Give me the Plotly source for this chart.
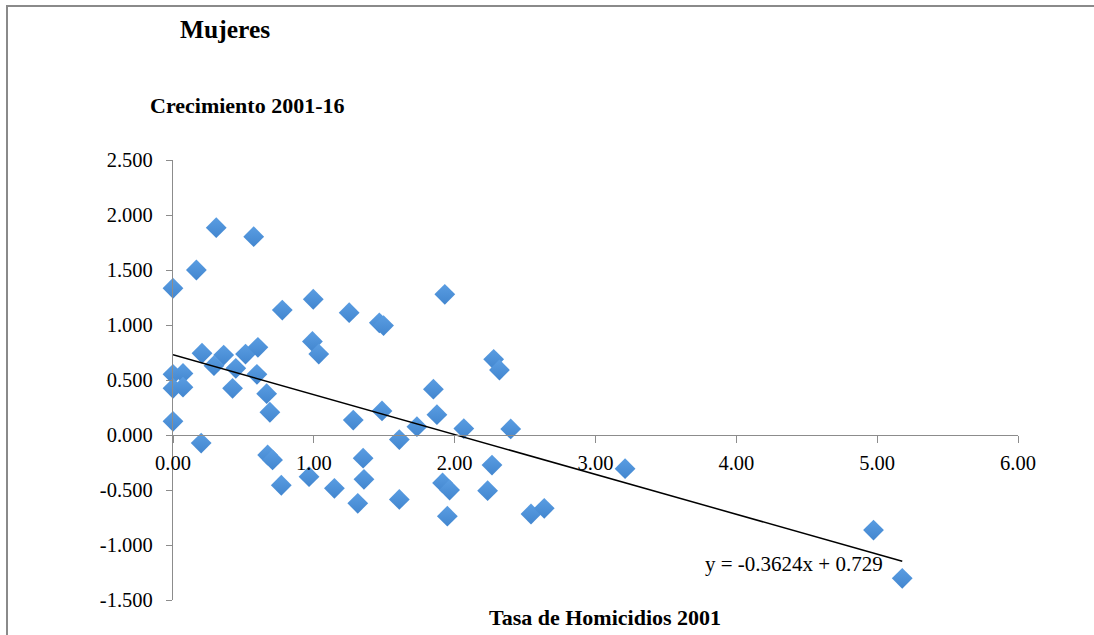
import plotly.graph_objects as go

# Data
tasa_homicidios_2001 = [
    0.000, 0.166, 0.307, 0.573, 0.776, 0.996, 1.251, 1.465, 1.495, 1.930,
    0.990, 1.035, 0.206, 0.360, 0.515, 0.603, 0.291, 0.446, 0.596, 0.000,
    0.071, 0.000, 0.071, 0.423, 0.665, 0.688, 0.000, 0.200, 0.672, 0.707,
    0.769, 0.966, 1.146, 1.280, 1.350, 1.356, 1.312, 1.484, 1.607, 1.607,
    1.732, 1.849, 1.874, 1.914, 1.964, 1.948, 2.065, 2.277, 2.318, 2.398,
    2.265, 2.234, 2.542, 2.636, 3.210, 4.974, 5.178,
]
crecimiento_2001_16 = [
    1.334, 1.500, 1.885, 1.803, 1.136, 1.234, 1.112, 1.020, 0.995, 1.279,
    0.850, 0.736, 0.743, 0.727, 0.736, 0.797, 0.630, 0.606, 0.552, 0.552,
    0.560, 0.424, 0.435, 0.424, 0.376, 0.207, 0.124, -0.073, -0.182, -0.227,
    -0.457, -0.379, -0.485, 0.136, -0.211, -0.403, -0.621, 0.219, -0.042, -0.586,
    0.076, 0.417, 0.185, -0.436, -0.500, -0.738, 0.058, 0.688, 0.591, 0.055,
    -0.273, -0.506, -0.718, -0.667, -0.306, -0.864, -1.303,
]
trend_slope = -0.3624
trend_intercept = 0.729

x_tick_values = [0, 1, 2, 3, 4, 5, 6]
x_tick_labels = ["0.00", "1.00", "2.00", "3.00", "4.00", "5.00", "6.00"]
y_tick_values = [-1.5, -1.0, -0.5, 0.0, 0.5, 1.0, 1.5, 2.0, 2.5]
y_tick_labels = ["-1.500", "-1.000", "-0.500", "0.000", "0.500",
                 "1.000", "1.500", "2.000", "2.500"]

title_text = "Mujeres"
y_title_text = "Crecimiento 2001-16"
x_title_text = "Tasa de Homicidios 2001"
equation_text = "y = -0.3624x + 0.729"

x_range = [0, 6]
y_range = [-1.5, 2.5]

trend_x = [min(tasa_homicidios_2001), max(tasa_homicidios_2001)]
trend_y = [trend_slope * v + trend_intercept for v in trend_x]

SERIF = "Liberation Serif, Times New Roman, serif"

fig = go.Figure()
fig.add_trace(go.Scatter(
    x=tasa_homicidios_2001, y=crecimiento_2001_16, mode="markers",
    marker=dict(symbol="diamond", size=16, color="#5a9de2",
                gradient=dict(type="vertical", color="#4286cf"),
                line=dict(width=0)),
    cliponaxis=False, hoverinfo="x+y",
))
fig.add_trace(go.Scatter(
    x=trend_x, y=trend_y, mode="lines",
    line=dict(color="black", width=1.5), cliponaxis=False,
))

L, R, T, B = 173, 76, 160, 35
W, H = 1094, 635
pw, ph = W - L - R, H - T - B

def px_x(p):
    return (p - L) / pw

def px_y(p):
    return (H - B - p) / ph

zero_pos = (0 - y_range[0]) / (y_range[1] - y_range[0])

fig.update_layout(
    width=W, height=H,
    margin=dict(l=L, r=R, t=T, b=B, autoexpand=False),
    paper_bgcolor="white", plot_bgcolor="white",
    showlegend=False,
    font=dict(family=SERIF, size=20.5, color="black"),
    xaxis=dict(range=x_range, tickmode="array", tickvals=x_tick_values,
               ticktext=x_tick_labels,
               showgrid=False, zeroline=False, showline=True,
               linecolor="#8c8c8c", linewidth=1.2,
               ticks="outside", ticklen=7, tickcolor="#8c8c8c", tickwidth=1.2,
               anchor="free", position=zero_pos, ticklabelstandoff=2,
               tickfont=dict(family=SERIF, size=20.5, color="black")),
    yaxis=dict(range=y_range, tickmode="array", tickvals=y_tick_values,
               ticktext=y_tick_labels,
               showgrid=False, zeroline=False, showline=True,
               linecolor="#8c8c8c", linewidth=1.2,
               ticks="outside", ticklen=6, tickcolor="#8c8c8c", tickwidth=1.2,
               ticklabelstandoff=9,
               tickfont=dict(family=SERIF, size=20.5, color="black")),
    annotations=[
        dict(text="<b>%s</b>" % title_text, xref="paper", yref="paper",
             x=px_x(225), y=px_y(29), xanchor="center", yanchor="middle",
             showarrow=False, font=dict(family=SERIF, size=25.5, color="black")),
        dict(text="<b>%s</b>" % y_title_text, xref="paper", yref="paper",
             x=px_x(247), y=px_y(105), xanchor="center", yanchor="middle",
             showarrow=False, font=dict(family=SERIF, size=22, color="black")),
        dict(text="<b>%s</b>" % x_title_text, xref="paper", yref="paper",
             x=px_x(605), y=px_y(617), xanchor="center", yanchor="middle",
             showarrow=False, font=dict(family=SERIF, size=22, color="black")),
        dict(text=equation_text, xref="paper", yref="paper",
             x=px_x(794), y=px_y(564), xanchor="center", yanchor="middle",
             showarrow=False, font=dict(family=SERIF, size=21, color="black")),
    ],
    shapes=[
        dict(type="rect", xref="paper", yref="paper",
             x0=px_x(7), x1=px_x(1100), y0=px_y(640), y1=px_y(6),
             line=dict(color="#8a8a8a", width=2), fillcolor="rgba(0,0,0,0)",
             layer="below"),
    ],
)

fig.write_html("out.html",
               config={"displayModeBar": False},
               post_script="document.body.style.margin='0';document.body.style.overflow='hidden';")
